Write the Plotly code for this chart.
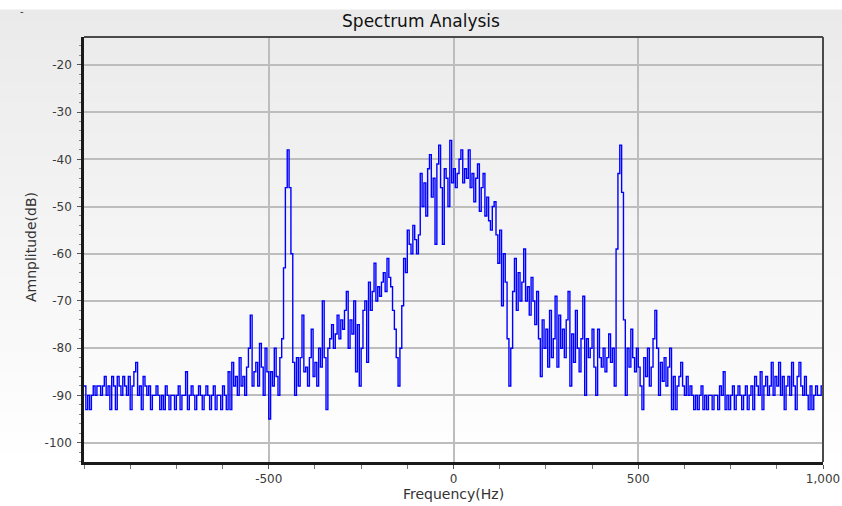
import plotly.graph_objects as go

# ---------------- data ----------------
freq_start, freq_stop, freq_step = -1000, 1000, 5
frequency_hz = list(range(freq_start, freq_stop + freq_step, freq_step))

amp_m1000 = [-88, -93, -90, -93, -90, -88, -90, -88, -88, -90, -88, -86, -90, -88, -93, -86, -88, -93, -86, -88]
amp_m900 = [-90, -86, -88, -90, -86, -93, -88, -85, -83, -90, -88, -93, -86, -88, -90, -88, -93, -90, -90, -88]
amp_m800 = [-90, -93, -90, -93, -88, -90, -93, -90, -90, -93, -90, -88, -93, -90, -90, -85, -93, -90, -88, -90]
amp_m700 = [-93, -90, -88, -90, -93, -90, -88, -90, -93, -90, -88, -93, -90, -90, -93, -88, -90, -93, -85, -93]
amp_m600 = [-83, -88, -86, -90, -82, -88, -86, -90, -84, -80, -73, -88, -85, -83, -88, -79, -84, -90, -80, -85]
amp_m500 = [-95, -85, -88, -80, -86, -90, -82, -78, -63, -46, -38, -46, -60, -83, -90, -82, -88, -82, -73, -85]
amp_m400 = [-84, -88, -82, -76, -86, -83, -88, -80, -84, -70, -82, -93, -80, -78, -75, -80, -77, -73, -78, -74]
amp_m300 = [-76, -72, -68, -80, -74, -77, -70, -85, -75, -88, -80, -72, -70, -83, -66, -72, -68, -62, -70, -67]
amp_m200 = [-69, -66, -64, -68, -61, -65, -67, -72, -76, -82, -88, -80, -71, -61, -64, -55, -58, -60, -54, -57]
amp_m100 = [-60, -56, -43, -50, -45, -52, -42, -39, -48, -44, -58, -41, -37, -46, -58, -42, -44, -50, -36, -45]
amp_p000 = [-42, -46, -43, -40, -38, -45, -42, -44, -38, -46, -43, -49, -44, -41, -51, -46, -43, -52, -48, -53]
amp_p100 = [-55, -50, -49, -56, -62, -55, -71, -60, -66, -78, -88, -80, -68, -61, -72, -64, -70, -66, -59, -70]
amp_p200 = [-67, -73, -65, -70, -75, -68, -78, -86, -74, -80, -76, -84, -72, -82, -78, -69, -84, -73, -80, -76]
amp_p300 = [-82, -74, -68, -88, -77, -83, -72, -80, -85, -78, -69, -90, -78, -82, -80, -76, -84, -90, -76, -82]
amp_p400 = [-84, -80, -85, -82, -77, -83, -80, -88, -59, -43, -37, -47, -74, -90, -80, -84, -76, -82, -85, -80]
amp_p500 = [-84, -88, -93, -82, -86, -80, -88, -84, -78, -72, -80, -90, -83, -87, -82, -88, -84, -80, -93, -86]
amp_p600 = [-93, -88, -86, -83, -88, -90, -86, -90, -88, -90, -93, -90, -93, -90, -88, -93, -90, -93, -90, -90]
amp_p700 = [-93, -90, -90, -93, -88, -90, -85, -93, -90, -93, -90, -88, -93, -90, -88, -90, -93, -90, -88, -93]
amp_p800 = [-90, -88, -93, -86, -88, -90, -85, -93, -88, -86, -90, -88, -83, -90, -86, -88, -83, -90, -86, -93]
amp_p900 = [-88, -86, -90, -83, -88, -93, -86, -83, -88, -90, -86, -90, -93, -88, -93, -90, -88, -90, -90, -88, -88]

amplitude_db = (amp_m1000 + amp_m900 + amp_m800 + amp_m700 + amp_m600 + amp_m500
                + amp_m400 + amp_m300 + amp_m200 + amp_m100 + amp_p000 + amp_p100
                + amp_p200 + amp_p300 + amp_p400 + amp_p500 + amp_p600 + amp_p700
                + amp_p800 + amp_p900)

x_tick_vals = [-500, 0, 500, 1000]
x_tick_text = ["-500", "0", "500", "1,000"]
y_tick_vals = [-100, -90, -80, -70, -60, -50, -40, -30, -20]
y_tick_text = ["-100", "-90", "-80", "-70", "-60", "-50", "-40", "-30", "-20"]

# ---------------- layout geometry ----------------
W, H = 842, 506
ML, MR, MT, MB = 84, 19, 37, 44
PW, PH = W - ML - MR, H - MT - MB

def px_to_py(y_px):
    return 1 - (y_px - MT) / PH

def px_to_px(x_px):
    return (x_px - ML) / PW

fig = go.Figure()
fig.add_trace(go.Scatter(
    x=frequency_hz, y=amplitude_db, mode="lines",
    line=dict(color="#0000ff", width=1.4, shape="hv"),
    hoverinfo="skip", showlegend=False,
))

shapes = []
x_left, x_right = px_to_px(0), px_to_px(W)
shapes.append(dict(type="rect", xref="paper", yref="paper",
                   x0=x_left, x1=x_right, y0=px_to_py(10), y1=px_to_py(0),
                   fillcolor="#ffffff", line=dict(width=0), layer="below"))
n_bands = 48
top_px, bot_px = 10, H
c_top, c_bot = 234, 255
for i in range(n_bands):
    y0p = top_px + (bot_px - top_px) * i / n_bands
    y1p = top_px + (bot_px - top_px) * (i + 1) / n_bands
    frac = min(1.0, (i + 0.5) / (n_bands * 0.92))
    c = round(c_top + (c_bot - c_top) * frac)
    shapes.append(dict(type="rect", xref="paper", yref="paper",
                       x0=x_left, x1=x_right, y0=px_to_py(y1p), y1=px_to_py(y0p) + 0.001,
                       fillcolor=f"rgb({c},{c},{c})", line=dict(width=0), layer="below"))
shapes.append(dict(type="line", xref="paper", yref="paper", x0=0, x1=1, y0=1, y1=1,
                   line=dict(color="#4a4a4a", width=2), layer="above"))
shapes.append(dict(type="line", xref="paper", yref="paper", x0=1, x1=1, y0=0, y1=1,
                   line=dict(color="#4a4a4a", width=2), layer="above"))

annotations = [
    dict(text="Frequency(Hz)", xref="paper", yref="paper", x=0.5, y=px_to_py(494),
         xanchor="center", yanchor="middle", showarrow=False,
         font=dict(family="DejaVu Sans", size=14, color="#333333")),
    dict(text="Amnplitude(dB)", xref="paper", yref="paper", x=px_to_px(31), y=px_to_py(247),
         xanchor="center", yanchor="middle", showarrow=False, textangle=-90,
         font=dict(family="DejaVu Sans", size=14, color="#333333")),
    dict(text="-", xref="paper", yref="paper", x=px_to_px(22), y=px_to_py(12),
         xanchor="center", yanchor="middle", showarrow=False,
         font=dict(family="DejaVu Sans", size=10, color="#333333")),
]

fig.update_layout(
    width=W, height=H,
    margin=dict(l=ML, r=MR, t=MT, b=MB, pad=0, autoexpand=False),
    paper_bgcolor="#ffffff",
    plot_bgcolor="rgba(0,0,0,0)",
    title=dict(text="Spectrum Analysis", x=0.5, xref="container", xanchor="center",
               y=1 - 21 / H, yref="container", yanchor="middle",
               font=dict(family="DejaVu Sans", size=17, color="#111111")),
    shapes=shapes,
    annotations=annotations,
    xaxis=dict(
        range=[freq_start, freq_stop], tickmode="array", tickvals=x_tick_vals, ticktext=x_tick_text,
        showgrid=True, gridcolor="#bdbdbd", gridwidth=1.5, zeroline=False,
        showline=True, linecolor="#1a1a1a", linewidth=2.5,
        ticks="outside", ticklen=4, tickcolor="#555555", tickwidth=1,
        minor=dict(ticks="outside", dtick=125, tick0=0, ticklen=4, tickcolor="#777777", showgrid=False),
        tickfont=dict(family="DejaVu Sans", size=12, color="#3a3a3a"),
        automargin=False, fixedrange=True,
    ),
    yaxis=dict(
        range=[-104.1, -14.1], tickmode="array", tickvals=y_tick_vals, ticktext=y_tick_text,
        showgrid=True, gridcolor="#bdbdbd", gridwidth=1.5, zeroline=False,
        showline=True, linecolor="#1a1a1a", linewidth=2.5,
        ticks="outside", ticklen=4, tickcolor="#555555", tickwidth=1,
        minor=dict(ticks="outside", dtick=2, tick0=0, ticklen=2, tickcolor="#888888", showgrid=False),
        tickfont=dict(family="DejaVu Sans", size=12, color="#3a3a3a"),
        ticklabelstandoff=3,
        automargin=False, fixedrange=True,
    ),
)

fig.write_html("out.html")
